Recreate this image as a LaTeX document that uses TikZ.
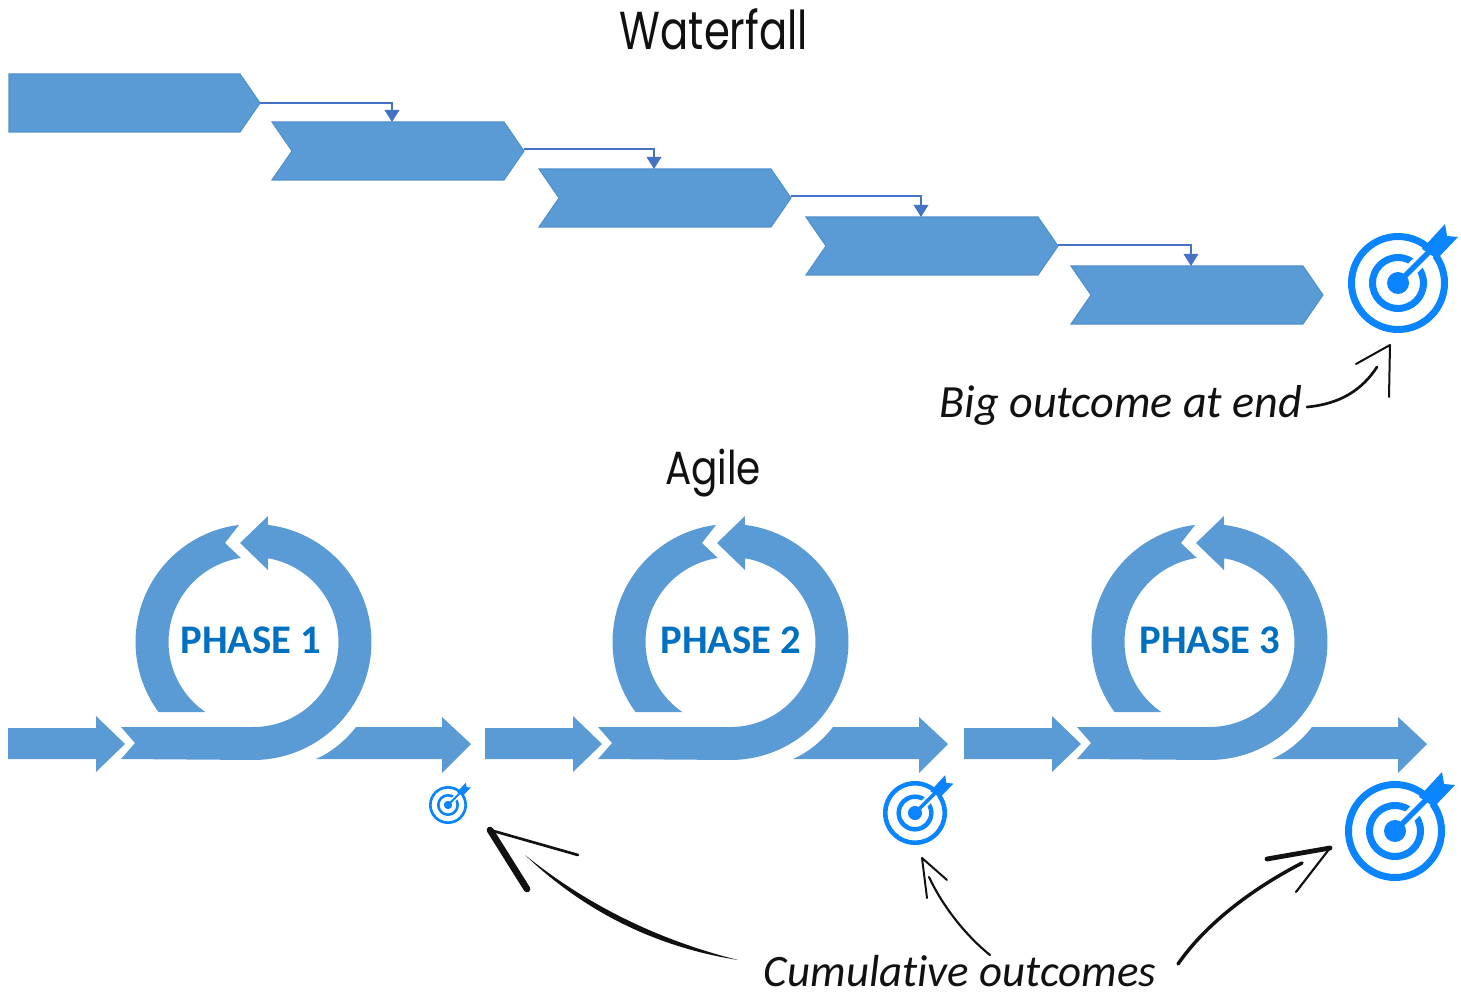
\documentclass[tikz,border=0pt]{standalone}
\usepackage{fontspec}
\setmainfont{Carlito}
\newfontfamily\titlefont{Poppins}
\newfontfamily\notefont[Ligatures=NoCommon]{Carlito}
\usetikzlibrary{arrows.meta,calc}
\definecolor{flow}{HTML}{5B9BD5}
\definecolor{flowedge}{HTML}{4F90CC}
\definecolor{link}{HTML}{4472C4}
\definecolor{goal}{HTML}{0A84FF}
\definecolor{phasetext}{HTML}{0070C0}
\definecolor{ink}{HTML}{111111}
\tikzset{
  flowfill/.style={fill=flow,draw=none},
  chev/.style={fill=flow,draw=flowedge,line width=0.8pt,line join=miter},
  linkline/.style={draw=link,line width=0.9pt,-{Triangle[length=9pt,width=11pt]}},
  hand/.style={draw=ink,line cap=round,line join=round},
  titletext/.style={inner sep=0pt,text=ink,font=\titlefont},
  notetext/.style={inner sep=0pt,text=ink,font=\notefont\itshape},
  phaselabel/.style={inner sep=0pt,text=phasetext,font=\bfseries\fontsize{30.5}{30.5}\selectfont},
}
\newcommand{\chevron}[5]{% name, left x, top y, tip y offset, entry x offset
  \draw[chev] (#2,#3) -- ++(232,0) -- ++(20,29) -- ++(-20,29) -- ++(-232,0) -- ++(20,-29) -- cycle;
  \coordinate (#1tip) at ($(#2,#3)+(252,#4)$);
  \coordinate (#1in) at ($(#2,#3)+(#5,0)$);
}
\newcommand{\target}[4]{% name, x, y, scale
  \coordinate (#1) at (#2,#3);
  \begin{scope}[shift={(#2,#3)}]
    \fill[goal,even odd rule] (0,0) circle[radius=50*#4] (0,0) circle[radius=43*#4];
    \fill[goal,even odd rule] (0,0) circle[radius=29*#4] (0,0) circle[radius=22*#4];
    \draw[white,line width=13*#4*0.75pt] (0,0) -- (38*#4,-38*#4);
    \draw[goal,line width=5.5*#4*0.75pt] (0,0) -- (32*#4,-32*#4);
    \fill[goal] (0,0) circle[radius=11*#4];
    \fill[goal] (24*#4,-34*#4) -- (47*#4,-59*#4) -- (49*#4,-47*#4) -- (60*#4,-46*#4) -- (39*#4,-24*#4) -- cycle;
  \end{scope}
}
\newcommand{\agile}[3]{% x shift, label, label x
  \begin{scope}[shift={(#1,0)}]
    \fill[flowfill] (8,728) -- (96,728) -- (96,716) -- (125,744) -- (96,772) -- (96,759) -- (8,759) -- cycle;
    \fill[flowfill] (121,727) -- (135,743) -- (121,759) -- (253.5,760)
      -- plot[domain=90:-83,samples=60] ({253.5+118*cos(\x)},{642+118*sin(\x)})
      -- (268,516) -- (240,543) -- (268,570)
      -- plot[domain=-80:90,samples=60] ({253.5+85*cos(\x)},{642+85*sin(\x)})
      -- cycle;
    \fill[flowfill] plot[domain=143.6:263,samples=50] ({253.5+118*cos(\x)},{642+118*sin(\x)})
      -- (225,543)
      -- plot[domain=261.4:124.4,samples=50] ({253.5+85*cos(\x)},{642+85*sin(\x)})
      -- cycle;
    \fill[flowfill] (316,759) .. controls (332,752) and (346,740) .. (356,727) -- (442,727) -- (442,717) -- (471,744) -- (442,773) -- (442,759) -- cycle;
    \node[phaselabel] (ph#1) at (#3,640) {#2};
  \end{scope}
}
\begin{document}
\begin{tikzpicture}[x=0.75pt,y=-0.75pt]
\useasboundingbox (0,0) rectangle (1461,995);
% Waterfall
\node[titletext] (wftitle) at (714,29) {\resizebox*{141pt}{31pt}{Waterfall}};
\draw[chev] (9,74) -- (240,74) -- (260,103) -- (240,132) -- (9,132) -- cycle;
\coordinate (c1tip) at (260,103);
\chevron{c2}{272}{122}{27}{120}
\chevron{c3}{539}{169}{27}{115}
\chevron{c4}{806}{217}{28}{115}
\chevron{c5}{1071}{266}{29}{120}
\draw[linkline] (c1tip) -| (c2in);
\draw[linkline] (c2tip) -| (c3in);
\draw[linkline] (c3tip) -| (c4in);
\draw[linkline] (c4tip) -| (c5in);
\target{bigt}{1398}{283}{1}
\node[notetext] (bignote) at (1121,405) {\resizebox{272pt}{!}{Big outcome at end}};
% Agile
\node[titletext] (agtitle) at (713,473) {\resizebox*{72pt}{36pt}{Agile}};
\agile{0}{PHASE 1}{251}
\agile{477}{PHASE 2}{254}
\agile{956}{PHASE 3}{254}
\target{t1}{448}{805}{0.38}
\target{t2}{915}{813}{0.64}
\target{t3}{1395}{831}{1}
\node[notetext] (cumnote) at (960,971) {\resizebox{294pt}{!}{Cumulative outcomes}};
% hand-drawn arrows
\coordinate (a0) at (1307,407);
\coordinate (a1) at (1377,367);
\coordinate (a2) at (1390,345);
\draw[hand,line width=2pt] (a0) .. controls (1340,404) and (1362,390) .. (a1);
\draw[hand,line width=1.5pt] (1356,364) -- (a2) -- (1389,397);
\coordinate (b0) at (738,960);
\coordinate (b1) at (525,855);
\coordinate (b2) at (490,830);
\fill[ink] (b0) .. controls (658,940) and (587,905) .. (b1) .. controls (585,912) and (656,947) .. (b0) -- cycle;
\draw[hand,line width=2pt] (b2) -- (578,855);
\draw[hand,line width=5pt] (b2) -- (527,889);
\coordinate (c0) at (990,955);
\coordinate (c1) at (929,877);
\coordinate (c2) at (922,858);
\draw[hand,line width=1.6pt] (c0) .. controls (965,935) and (942,905) .. (c1);
\draw[hand,line width=1.5pt] (947,880) -- (c2) -- (927,898);
\coordinate (d0) at (1178,964);
\coordinate (d1) at (1302,863);
\coordinate (d2) at (1330,848);
\draw[hand,line width=2.6pt] (d0) .. controls (1205,925) and (1250,890) .. (d1);
\draw[hand,line width=3.6pt] (1267,859) -- (d2);
\draw[hand,line width=1.6pt] (d2) -- (1296,892);
\end{tikzpicture}
\end{document}
